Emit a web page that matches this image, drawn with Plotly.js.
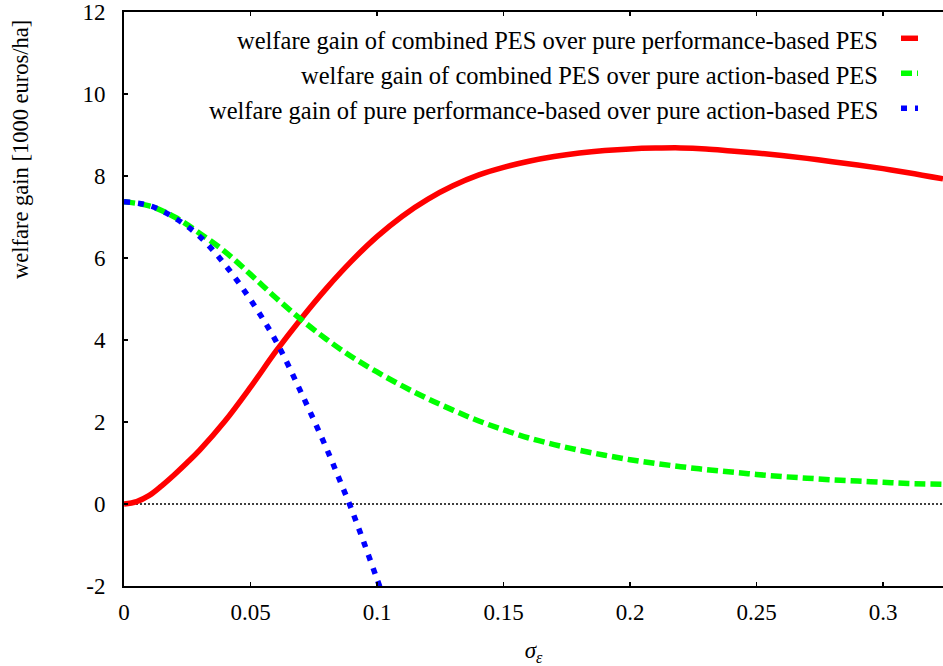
<!DOCTYPE html>
<html>
<head>
<meta charset="utf-8">
<script src="https://cdn.plot.ly/plotly-3.0.1.min.js"></script>
<style>html,body{margin:0;padding:0;background:#fff;}</style>
</head>
<body>
<div id="chart" style="width:943px;height:666px;"></div>
<script>
// ---- data ----
const seriesNames = [
  "welfare gain of combined PES over pure performance-based PES",
  "welfare gain of combined PES over pure action-based PES",
  "welfare gain of pure performance-based over pure action-based PES"
];
const redX = [0, 0.005, 0.01, 0.015, 0.02, 0.025, 0.03, 0.04, 0.05, 0.06, 0.07, 0.08, 0.09, 0.10, 0.11, 0.12, 0.13, 0.14, 0.15, 0.16, 0.17, 0.18, 0.19, 0.20, 0.21, 0.22, 0.23, 0.24, 0.25, 0.26, 0.27, 0.28, 0.29, 0.30, 0.31, 0.3237];
const redY = [0, 0.06, 0.21, 0.45, 0.72, 1.01, 1.32, 2.03, 2.85, 3.72, 4.52, 5.26, 5.93, 6.52, 7.02, 7.43, 7.76, 8.02, 8.21, 8.36, 8.475, 8.56, 8.62, 8.66, 8.68, 8.685, 8.66, 8.61, 8.56, 8.50, 8.43, 8.35, 8.27, 8.18, 8.08, 7.93];
const greenX = [0, 0.01, 0.02, 0.03, 0.04, 0.05, 0.06, 0.07, 0.08, 0.09, 0.10, 0.11, 0.12, 0.13, 0.14, 0.15, 0.16, 0.17, 0.18, 0.19, 0.20, 0.21, 0.22, 0.23, 0.24, 0.25, 0.26, 0.27, 0.28, 0.29, 0.30, 0.31, 0.3237];
const greenY = [7.37, 7.27, 7.0, 6.6, 6.15, 5.6, 5.03, 4.5, 4.02, 3.59, 3.22, 2.88, 2.57, 2.29, 2.03, 1.81, 1.61, 1.45, 1.31, 1.19, 1.08, 0.99, 0.91, 0.84, 0.78, 0.72, 0.67, 0.63, 0.59, 0.56, 0.53, 0.50, 0.48];
const blueX = [0, 0.01, 0.02, 0.03, 0.04, 0.05, 0.06, 0.07, 0.08, 0.085, 0.09, 0.095, 0.10, 0.1015];
const blueY = [7.37, 7.28, 6.98, 6.52, 5.83, 4.98, 3.98, 2.72, 1.36, 0.62, -0.14, -0.97, -1.83, -2.08];
const xTickVals = [0, 0.05, 0.1, 0.15, 0.2, 0.25, 0.3];
const xTickText = ["0", "0.05", "0.1", "0.15", "0.2", "0.25", "0.3"];
const yTickVals = [-2, 0, 2, 4, 6, 8, 10, 12];
const yTickText = ["-2", "0", "2", "4", "6", "8", "10", "12"];
const xTitle = "<i>σ</i><sub><i>ε</i></sub>";
const yTitle = "welfare gain [1000 euros/ha]";

// ---- styles ----
const colors = ["#ff0000", "#00ff00", "#0000ff"];
const dashes = ["solid", "11px,5px", "6px,8px"];
const LW = 5.5;
const FONT = "Liberation Serif";

const traces = [
  {x: redX, y: redY, name: seriesNames[0], mode: "lines", line: {color: colors[0], width: LW, dash: dashes[0], shape: "spline", smoothing: 1}},
  {x: greenX, y: greenY, name: seriesNames[1], mode: "lines", line: {color: colors[1], width: LW, dash: dashes[1], shape: "spline", smoothing: 1}},
  {x: blueX, y: blueY, name: seriesNames[2], mode: "lines", line: {color: colors[2], width: LW, dash: dashes[2], shape: "spline", smoothing: 1}}
];

// gnuplot-style key: text right-aligned, sample line to its right
const legTextX = (880 - 124) / 819;
const keyX0 = (901 - 124) / 819, keyX1 = (918 - 124) / 819;
const rowY = [(586 - 40) / 574, (586 - 75) / 574, (586 - 110) / 574];

const annotations = seriesNames.map((s, i) => ({
  text: s, xref: "paper", yref: "paper", x: legTextX, y: rowY[i],
  xanchor: "right", yanchor: "middle", showarrow: false,
  font: {family: FONT, size: 24.5, color: "#000"}
}));
annotations.push({
  text: yTitle, xref: "paper", yref: "paper", x: (20 - 124) / 819, y: (586 - 150) / 574,
  xanchor: "center", yanchor: "middle", textangle: -90, showarrow: false,
  font: {family: FONT, size: 22.5, color: "#000"}
});

const shapes = [
  {type: "line", xref: "paper", x0: 0, x1: 1, yref: "y", y0: 0, y1: 0,
   line: {color: "#000", width: 1.5, dash: "2px,2px"}, layer: "below"}
].concat(seriesNames.map((s, i) => ({
  type: "line", xref: "paper", yref: "paper", x0: keyX0, x1: keyX1, y0: rowY[i] + 0.003, y1: rowY[i] + 0.003,
  line: {color: colors[i], width: LW, dash: dashes[i]}
})));

const layout = {
  width: 943, height: 666,
  margin: {l: 124, r: 0, t: 12, b: 80, pad: 0},
  paper_bgcolor: "#fff", plot_bgcolor: "#fff",
  showlegend: false,
  font: {family: FONT, size: 23, color: "#000"},
  xaxis: {
    range: [0, 0.3237], tickvals: xTickVals, ticktext: xTickText,
    ticks: "inside", ticklen: 4, tickwidth: 1.5, tickcolor: "#000",
    showline: true, linewidth: 2, linecolor: "#000", mirror: "ticks",
    showgrid: false, zeroline: false, ticklabelstandoff: 4, ticklabeloverflow: "allow",
    tickfont: {family: FONT, size: 23, color: "#000"},
    title: {text: xTitle, font: {family: FONT, size: 23, color: "#000"}, standoff: 24}
  },
  yaxis: {
    range: [-2, 12], tickvals: yTickVals, ticktext: yTickText,
    ticks: "inside", ticklen: 4, tickwidth: 1.5, tickcolor: "#000",
    showline: true, linewidth: 2, linecolor: "#000", mirror: false,
    showgrid: false, zeroline: false, ticklabelstandoff: 12, ticklabeloverflow: "allow",
    tickfont: {family: FONT, size: 23, color: "#000"}
  },
  annotations: annotations,
  shapes: shapes
};

Plotly.newPlot("chart", traces, layout, {staticPlot: true, displayModeBar: false});
</script>
</body>
</html>
